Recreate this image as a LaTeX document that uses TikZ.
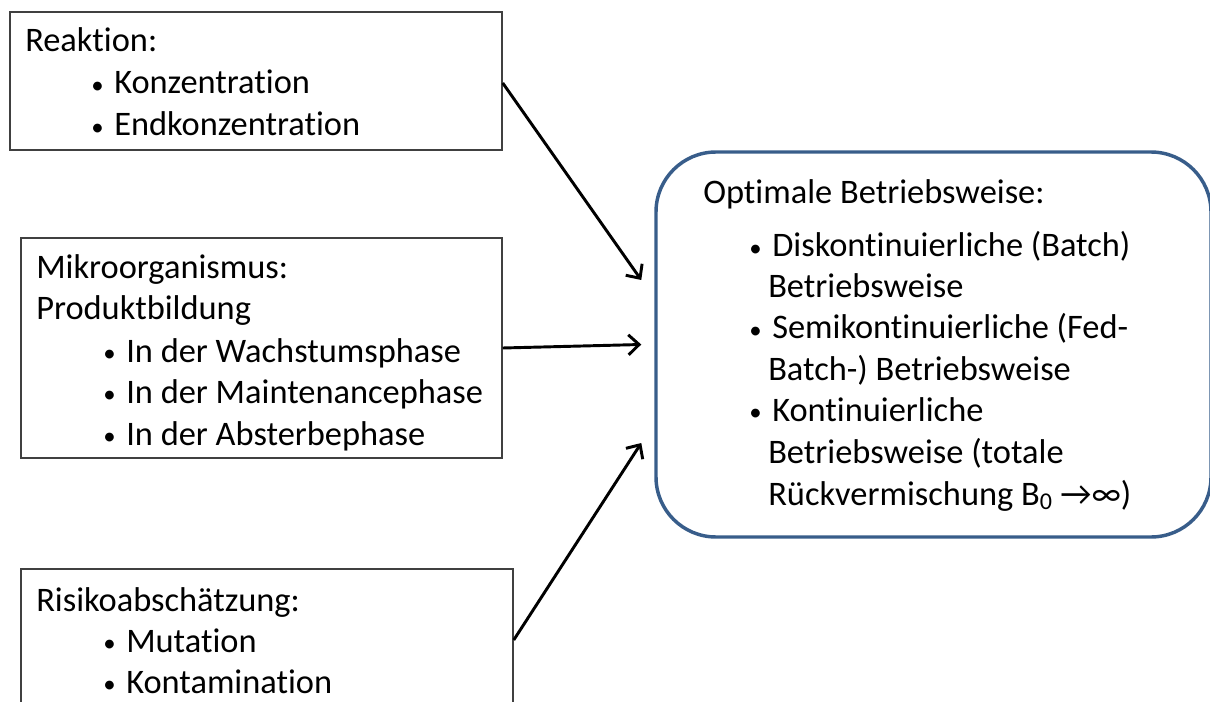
\documentclass[tikz,border=0pt]{standalone}
\usepackage{fontspec}
\setmainfont{Carlito}[Ligatures=NoCommon]
\usetikzlibrary{arrows.meta,calc}
\definecolor{boxgray}{RGB}{64,64,64}
\definecolor{bigblue}{RGB}{56,93,138}
\tikzset{
  plainbox/.style={draw=boxgray, line width=1.1pt, inner sep=0pt, fill=white},
  bigbox/.style={draw=bigblue, line width=2.6pt, rounded corners=45pt, inner sep=0pt},
  txt/.style={anchor=base west, inner sep=0pt, font=\fontsize{25.8}{31}\selectfont},
  conn/.style={line width=2.2pt, -{Straight Barb[length=8pt,width=15pt,line width=2.2pt]}},
}
\newcommand{\bul}{\llap{\raisebox{0.5pt}{\scalebox{0.72}{\textbullet}}\hspace{8pt}}}
\begin{document}
\begin{tikzpicture}[x=0.75pt,y=-0.75pt]
\useasboundingbox (0,0) rectangle (1210,702);
\clip (0,0) rectangle (1210,702);
% boxes
\node[plainbox, minimum width=369pt, minimum height=103.5pt] (b1) at (256,81) {};
\node[plainbox, minimum width=360.75pt, minimum height=165pt] (b2) at (261.5,348) {};
\node[plainbox, minimum width=369pt, minimum height=106.5pt] (b3) at (267,640) {};
\node[bigbox, minimum width=416.25pt, minimum height=288.75pt] (big) at (933.5,344.5) {};
% box 1 text
\node[txt] (t11) at (25,52) {Reaktion:};
\node[txt] (t12) at (114,94) {\bul Konzentration};
\node[txt] (t13) at (114,136) {\bul Endkonzentration};
% box 2 text
\node[txt] (t21) at (36,279) {Mikroorganismus:};
\node[txt] (t22) at (36,320) {Produktbildung};
\node[txt] (t23) at (126,362) {\bul In der Wachstumsphase};
\node[txt] (t24) at (126,403) {\bul In der Maintenancephase};
\node[txt] (t25) at (126,445) {\bul In der Absterbephase};
% box 3 text
\node[txt] (t31) at (36,611) {Risikoabschätzung:};
\node[txt] (t32) at (126,652) {\bul Mutation};
\node[txt] (t33) at (126,693) {\bul Kontamination};
% big box text
\node[txt] (t41) at (703,204) {Optimale Betriebsweise:};
\node[txt] (t42) at (772,257) {\bul Diskontinuierliche (Batch)};
\node[txt] (t43) at (768,298) {Betriebsweise};
\node[txt] (t44) at (772,339) {\bul Semikontinuierliche (Fed-};
\node[txt] (t45) at (768,380) {Batch-) Betriebsweise};
\node[txt] (t46) at (772,421) {\bul Kontinuierliche};
\node[txt] (t47) at (768,463) {Betriebsweise (totale};
\node[txt] (t48) at (768,505) {Rückvermischung B\textsubscript{0} →∞)};
% connectors
\coordinate (e1) at ($(big.west)+(-13,-64.5)$);
\coordinate (e2) at ($(big.west)+(-13,0)$);
\coordinate (e3) at ($(big.west)+(-13,98.5)$);
\draw[conn] ($(b1.east)+(0,2)$) -- (e1);
\draw[conn] (b2.east) -- (e2);
\draw[conn] (b3.east) -- (e3);
\end{tikzpicture}
\end{document}
